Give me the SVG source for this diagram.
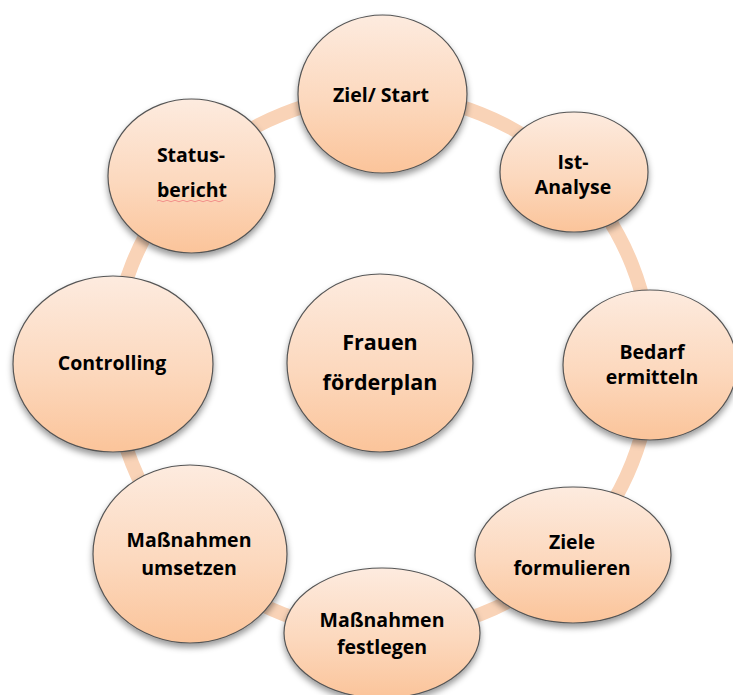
<svg xmlns="http://www.w3.org/2000/svg" width="733" height="695" viewBox="0 0 733 695">
<defs>
<linearGradient id="fillG" x1="0" y1="0" x2="0" y2="1">
<stop offset="0" stop-color="#fdebdf"/>
<stop offset="0.55" stop-color="#fcd8bd"/>
<stop offset="1" stop-color="#fbc49a"/>
</linearGradient>
<filter id="sh" x="-20%" y="-20%" width="140%" height="150%">
<feDropShadow dx="0" dy="4" stdDeviation="3" flood-color="#000" flood-opacity="0.4"/>
</filter>
<style>
.n{fill:url(#fillG);stroke:#555;stroke-width:1.2;filter:url(#sh)}
.t{font-family:"Open Sans","Liberation Sans",sans-serif;font-weight:bold;font-size:19.5px;fill:#000;text-anchor:middle}
.big{font-size:21.5px}
</style>
</defs>
<rect width="733" height="695" fill="#fff"/>
<g id="connectors">
<circle cx="382" cy="364" r="269" fill="none" stroke="#f9d3b7" stroke-width="14"/>
</g>
<g id="ziel-start">
<ellipse class="n" cx="382.5" cy="94" rx="84.5" ry="79"/>
<text class="t" x="381" y="102">Ziel/ Start</text>
</g>
<g id="ist-analyse">
<ellipse class="n" cx="574" cy="172" rx="74" ry="60"/>
<text class="t" x="573" y="169">Ist-</text>
<text class="t" x="573" y="194">Analyse</text>
</g>
<g id="bedarf-ermitteln">
<ellipse class="n" cx="650" cy="365" rx="87" ry="75"/>
<text class="t" x="652" y="359">Bedarf</text>
<text class="t" x="652" y="384">ermitteln</text>
</g>
<g id="ziele-formulieren">
<ellipse class="n" cx="573" cy="555" rx="98" ry="68"/>
<text class="t" x="572" y="549">Ziele</text>
<text class="t" x="572" y="575">formulieren</text>
</g>
<g id="massnahmen-umsetzen">
<ellipse class="n" cx="190" cy="554" rx="97" ry="89"/>
<text class="t" x="189" y="547">Maßnahmen</text>
<text class="t" x="189" y="575">umsetzen</text>
</g>
<g id="massnahmen-festlegen">
<ellipse class="n" cx="382" cy="633" rx="98" ry="65"/>
<text class="t" x="382" y="627">Maßnahmen</text>
<text class="t" x="382" y="654">festlegen</text>
</g>
<g id="controlling">
<ellipse class="n" cx="113" cy="364" rx="100" ry="88"/>
<text class="t" x="112" y="370">Controlling</text>
</g>
<g id="status-bericht">
<ellipse class="n" cx="191.5" cy="176" rx="83.5" ry="77"/>
<text class="t" x="191" y="162">Status-</text>
<text class="t" x="192" y="197">bericht</text>
<path d="M157,201 q2,-1.5 4,0 t4,0 t4,0 t4,0 t4,0 t4,0 t4,0 t4,0 t4,0 t4,0 t4,0 t4,0 t4,0 t4,0 t4,0 t4,0 t2,0" fill="none" stroke="#f08080" stroke-width="0.8"/>
</g>
<g id="frauenfoerderplan">
<ellipse class="n" cx="380" cy="363" rx="93" ry="89"/>
<text class="t big" x="380" y="350">Frauen</text>
<text class="t big" x="380" y="390">förderplan</text>
</g>
</svg>
